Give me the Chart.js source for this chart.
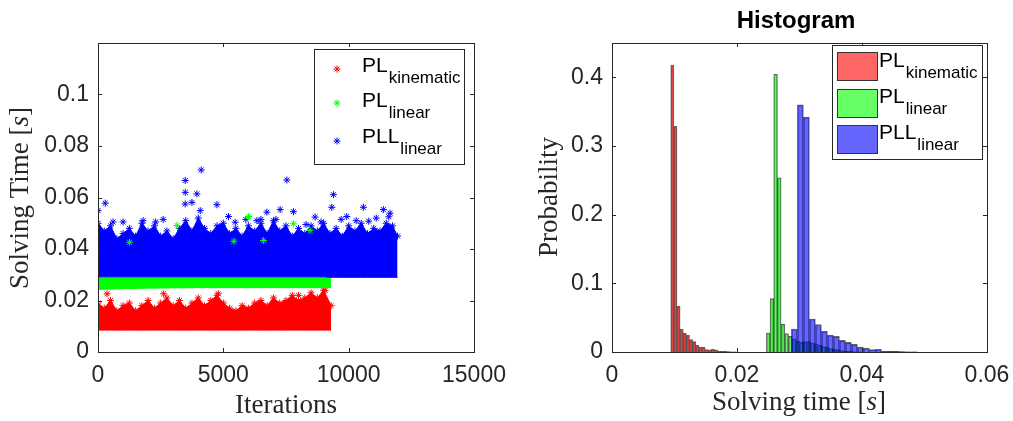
<!DOCTYPE html>
<html><head><meta charset="utf-8">
<script src="https://cdn.jsdelivr.net/npm/chart.js@4.4.1/dist/chart.umd.min.js"></script>
<style>
html,body{margin:0;padding:0;background:#fff;}
#wrap{position:relative;width:1013px;height:421px;overflow:hidden;}
canvas{position:absolute;top:0;}
#c1{left:0;} #c2{left:506px;}
</style></head><body>
<div id="wrap"><canvas id="c1" width="506" height="421"></canvas><canvas id="c2" width="507" height="421"></canvas></div>
<script>
// ---------------- DATA: left panel (solving time per iteration) ----------------
const seriesNames = ['kinematic', 'linear', 'linear'];
const seriesMain = ['PL', 'PL', 'PLL'];
const xTicksLeft = [0, 5000, 10000, 15000];
const yTicksLeft = [0, 0.02, 0.04, 0.06, 0.08, 0.1];

// dense clouds: envelopes
const redEnvX = [0,250,500,750,1000,1250,1500,1750,2000,2250,2500,2750,3000,3250,3500,3750,4000,4250,4500,4750,5000,5250,5500,5750,6000,6250,6500,6750,7000,7250,7500,7750,8000,8250,8500,8750,9000,9300];
const redEnvTop = [0.019,0.017,0.020,0.016,0.018,0.019,0.016,0.018,0.020,0.017,0.019,0.021,0.018,0.020,0.017,0.019,0.021,0.018,0.020,0.022,0.019,0.017,0.016,0.018,0.017,0.019,0.020,0.018,0.021,0.019,0.020,0.022,0.020,0.021,0.023,0.021,0.024,0.018];
const redEnvBottom = [0.0085,0.0085,0.0085,0.0085,0.0085,0.0085,0.0085,0.0085,0.0085,0.0085,0.0085,0.0085,0.0085,0.0085,0.0085,0.0085,0.0085,0.0085,0.0085,0.0085,0.0085,0.0085,0.0085,0.0085,0.0085,0.0085,0.0085,0.0085,0.0085,0.0085,0.0085,0.0085,0.0085,0.0085,0.0085,0.0085,0.0085,0.0085];

const greenEnvX = [0,1000,2000,3000,4000,5000,6000,7000,8000,9000,9300];
const greenEnvTop = [0.029,0.029,0.029,0.029,0.029,0.029,0.029,0.029,0.029,0.029,0.029];
const greenEnvBottom = [0.0243,0.0246,0.0248,0.0249,0.025,0.025,0.025,0.025,0.025,0.025,0.025];

const blueEnvX = [0,250,500,750,1000,1250,1500,1750,2000,2250,2500,2750,3000,3250,3500,3750,4000,4250,4500,4750,5000,5250,5500,5750,6000,6250,6500,6750,7000,7250,7500,7750,8000,8250,8500,8750,9000,9250,9500,9750,10000,10250,10500,10750,11000,11250,11500,11750,11950];
const blueEnvTop = [0.050,0.047,0.049,0.044,0.046,0.048,0.045,0.050,0.047,0.049,0.045,0.047,0.044,0.048,0.051,0.047,0.052,0.048,0.046,0.049,0.050,0.046,0.048,0.045,0.049,0.047,0.050,0.046,0.051,0.047,0.049,0.045,0.048,0.046,0.049,0.047,0.050,0.046,0.048,0.045,0.049,0.047,0.050,0.046,0.048,0.047,0.050,0.049,0.045];
const blueEnvBottom = [0.0292,0.0292,0.0292,0.0292,0.0292,0.0292,0.0292,0.0292,0.0292,0.0292,0.0292,0.0292,0.0292,0.0292,0.0292,0.0292,0.0292,0.0292,0.0292,0.0292,0.0292,0.0292,0.0292,0.0292,0.0292,0.0292,0.0292,0.0292,0.0292,0.0292,0.0292,0.0292,0.0292,0.0292,0.0292,0.0292,0.0292,0.029,0.029,0.029,0.029,0.029,0.029,0.029,0.029,0.029,0.029,0.029,0.029];

// isolated points
const redOutX = [360, 2620, 4800, 8000, 9060];
const redOutY = [0.0226, 0.0226, 0.0226, 0.022, 0.0239];
const greenOutX = [6003, 3149, 7797, 8460, 6600, 5420, 1260];
const greenOutY = [0.0526, 0.0491, 0.0498, 0.0472, 0.0433, 0.0430, 0.0426];
const blueOutX = [0, 290, 3480, 3480, 3480, 4118, 3945, 3747, 4078, 4743, 7534, 9392, 9327, 10588, 11385, 11651, 7267, 6736, 7797, 5206, 6338, 5473, 9925, 10800, 8662,
  600, 1000, 1800, 2300, 2600, 5900, 6500, 7100, 8300, 8900, 9700, 10300, 11100, 11600];
const blueOutY = [0.0549, 0.0578, 0.0666, 0.0620, 0.0575, 0.0707, 0.0614, 0.0581, 0.0549, 0.0572, 0.0668, 0.0611, 0.0562, 0.0562, 0.0553, 0.0539, 0.0553, 0.0543, 0.0545, 0.0526, 0.0510, 0.0504, 0.0526, 0.0508, 0.0524,
  0.0505, 0.0505, 0.0510, 0.0505, 0.0515, 0.0515, 0.0515, 0.0515, 0.0495, 0.0505, 0.0515, 0.0510, 0.0520, 0.0525];

// ---------------- DATA: right panel (histogram, probability) ----------------
const xTicksRight = [0, 0.02, 0.04, 0.06];
const yTicksRight = [0, 0.1, 0.2, 0.3, 0.4];
const redBinStart = 0.0094, redBinW = 0.0005;
const redProb = [0.418,0.329,0.0665,0.0335,0.0277,0.0243,0.018,0.015,0.0097,0.0073,0.007,0.0035,0.003,0.004,0.003,0.0015,0.001,0.0008,0.0005,0.0004,0.0003];
const greenBinStart = 0.0247, greenBinW = 0.00059;
const greenProb = [0.0277,0.0777,0.4045,0.2537,0.0403,0.0268,0.0228,0.019,0.016,0.014,0.015,0.015,0.013,0.012,0.010,0.008,0.007,0.005,0.004,0.003,0.002,0.001,0.0008,0.0005,0.0003,0.0002];
const blueBinStart = 0.0287, blueBinW = 0.00096;
const blueProb = [0.0335,0.360,0.342,0.048,0.040,0.030,0.0245,0.0228,0.017,0.014,0.011,0.0073,0.0058,0.0035,0.004,0.0015,0.001,0.0008,0.0005,0.0004,0.0003];

// ---------------- STYLE / LAYOUT ----------------
const AX = '#262626';
const SANS = "'Liberation Sans', Arial, sans-serif";
const SERIF = "'Liberation Serif', 'Times New Roman', serif";
const tickFont = {family: SANS, size: 23};
const fmt = v => String(Math.round(v * 1000) / 1000);
const RIGHT_PLOT_W = 375;            // px width of right plot area
const PX_PER_UNIT = RIGHT_PLOT_W / 0.06;

function pts(xs, ys) { return xs.map((x, i) => ({x: x, y: ys[i]})); }
function bins(start, w, probs) { return probs.map((p, i) => ({x: start + (i + 0.5) * w, y: p})); }

function drawMixed(ctx, parts, x, y, rotate) {
  ctx.save();
  ctx.translate(x, y);
  if (rotate) ctx.rotate(-Math.PI / 2);
  let total = 0;
  parts.forEach(p => { ctx.font = p.f; total += ctx.measureText(p.t).width; });
  let cx = -total / 2;
  ctx.textAlign = 'left'; ctx.textBaseline = 'alphabetic';
  parts.forEach(p => { ctx.font = p.f; ctx.fillText(p.t, cx, 0); cx += ctx.measureText(p.t).width; });
  ctx.restore();
}
function drawSub(ctx, x, base, main, sub) {
  ctx.textAlign = 'left'; ctx.textBaseline = 'alphabetic'; ctx.fillStyle = '#000';
  ctx.font = '21px ' + SANS; ctx.fillText(main, x, base);
  const w = ctx.measureText(main).width;
  ctx.font = '17px ' + SANS; ctx.fillText(sub, x + w + 1, base + 11);
}
function drawStar(ctx, x, y, r, color) {
  ctx.save(); ctx.strokeStyle = color; ctx.lineWidth = 1; ctx.beginPath();
  for (let k = 0; k < 4; k++) {
    const a = k * Math.PI / 4;
    ctx.moveTo(x - r * Math.cos(a), y - r * Math.sin(a));
    ctx.lineTo(x + r * Math.cos(a), y + r * Math.sin(a));
  }
  ctx.stroke(); ctx.restore();
}

const framePlugin = {
  id: 'matlabFrame',
  afterDatasetsDraw(chart, args, opts) {
    const ctx = chart.ctx, a = chart.chartArea;
    ctx.save();
    ctx.strokeStyle = AX; ctx.lineWidth = 1;
    ctx.strokeRect(Math.round(a.left) + 0.5, Math.round(a.top) + 0.5, Math.round(a.right - a.left), Math.round(a.bottom - a.top));
    const L = 4;
    ctx.beginPath();
    opts.xTicks.forEach(v => {
      const px = Math.round(chart.scales.x.getPixelForValue(v)) + 0.5;
      ctx.moveTo(px, a.bottom); ctx.lineTo(px, a.bottom - L);
      ctx.moveTo(px, a.top); ctx.lineTo(px, a.top + L);
    });
    opts.yTicks.forEach(v => {
      const py = Math.round(chart.scales.y.getPixelForValue(v)) + 0.5;
      ctx.moveTo(a.left, py); ctx.lineTo(a.left + L, py);
      ctx.moveTo(a.right, py); ctx.lineTo(a.right - L, py);
    });
    ctx.stroke();
    ctx.fillStyle = AX;
    const nf = '27px ' + SERIF, itf = 'italic 27px ' + SERIF;
    drawMixed(ctx, opts.xTitle.map(p => ({t: p.t, f: p.i ? itf : nf})), opts.xTitlePos[0], opts.xTitlePos[1], false);
    drawMixed(ctx, opts.yTitle.map(p => ({t: p.t, f: p.i ? itf : nf})), opts.yTitlePos[0], opts.yTitlePos[1], true);
    if (opts.title) {
      ctx.fillStyle = '#000';
      drawMixed(ctx, [{t: opts.title, f: 'bold 24px ' + SANS}], opts.titlePos[0], opts.titlePos[1], false);
    }
    // legend
    const lg = opts.legend;
    ctx.fillStyle = '#fff';
    ctx.fillRect(lg.box[0], lg.box[1], lg.box[2], lg.box[3]);
    ctx.strokeStyle = AX;
    ctx.strokeRect(lg.box[0] + 0.5, lg.box[1] + 0.5, lg.box[2], lg.box[3]);
    for (let i = 0; i < 3; i++) {
      if (lg.kind === 'star') {
        drawStar(ctx, lg.markX, lg.rowY[i], 3.5, lg.colors[i]);
      } else {
        ctx.fillStyle = lg.colors[i];
        ctx.fillRect(lg.markX, lg.rowY[i], 40, 28);
        ctx.strokeStyle = '#333';
        ctx.strokeRect(lg.markX + 0.5, lg.rowY[i] + 0.5, 40, 28);
      }
      drawSub(ctx, lg.textX, lg.base[i], seriesMain[i], seriesNames[i]);
    }
    ctx.restore();
  }
};

function fixedScale(size, isX) {
  return function (scale) {
    if (isX) { scale.height = size; scale.paddingLeft = 0; scale.paddingRight = 0; }
    else { scale.width = size; scale.paddingTop = 0; scale.paddingBottom = 0; }
  };
}

// ---------------- LEFT CHART ----------------
const RED = '#ff0000', GREEN = '#00ff00', BLUE = '#0000ff';
function envUpper(xs, ys, color, order, r) {
  return {type: 'line', data: pts(xs, ys), showLine: true, borderColor: color, borderWidth: 1,
    backgroundColor: color, fill: '+1', pointStyle: 'star', pointRadius: r, pointBorderColor: color,
    pointBorderWidth: 1, order: order, tension: 0};
}
function envLower(xs, ys, color, order) {
  return {type: 'line', data: pts(xs, ys), showLine: true, borderColor: color, borderWidth: 1,
    backgroundColor: color, fill: false, pointRadius: 0, order: order, tension: 0};
}
function outliers(xs, ys, color, order) {
  return {type: 'scatter', data: pts(xs, ys), showLine: false, pointStyle: 'star', pointRadius: 3.5,
    pointBorderColor: color, pointBorderWidth: 1, backgroundColor: color, order: order};
}

new Chart(document.getElementById('c1'), {
  type: 'scatter',
  data: {datasets: [
    envUpper(redEnvX, redEnvTop, RED, 3, 3.5), envLower(redEnvX, redEnvBottom, RED, 3), outliers(redOutX, redOutY, RED, 3),
    envUpper(greenEnvX, greenEnvTop, GREEN, 2, 0), envLower(greenEnvX, greenEnvBottom, GREEN, 2),
    envUpper(blueEnvX, blueEnvTop, BLUE, 1, 3.5), envLower(blueEnvX, blueEnvBottom, BLUE, 1), outliers(blueOutX, blueOutY, BLUE, 1),
    outliers(greenOutX, greenOutY, GREEN, 0)
  ]},
  options: {
    responsive: false, animation: false, events: [],
    layout: {padding: {top: 43, right: 32, left: 0, bottom: 0}},
    plugins: {legend: {display: false}, tooltip: {enabled: false},
      matlabFrame: {xTicks: xTicksLeft, yTicks: yTicksLeft,
        xTitle: [{t: 'Iterations'}], xTitlePos: [286, 413],
        yTitle: [{t: 'Solving Time ['}, {t: 's', i: true}, {t: ']'}], yTitlePos: [28, 198],
        legend: {kind: 'star', box: [314, 49, 150, 115], markX: 337, rowY: [69, 103, 141], textX: 362, base: [72, 107, 143], colors: [RED, GREEN, BLUE]}}},
    scales: {
      x: {type: 'linear', min: 0, max: 15000, afterFit: fixedScale(69, true),
        grid: {display: false, drawTicks: false}, border: {display: false},
        ticks: {stepSize: 5000, padding: 10, color: AX, font: tickFont, maxRotation: 0,
          callback: v => xTicksLeft.includes(v) ? String(v) : ''}},
      y: {type: 'linear', min: 0, max: 0.12, afterFit: fixedScale(98, false),
        grid: {display: false, drawTicks: false}, border: {display: false},
        ticks: {stepSize: 0.02, padding: 9, color: AX, font: tickFont,
          callback: v => yTicksLeft.some(t => Math.abs(t - v) < 1e-9) ? fmt(v) : ''}}
    }
  },
  plugins: [framePlugin]
});

// ---------------- RIGHT CHART ----------------
function histSet(start, w, probs, fillC, order) {
  return {data: bins(start, w, probs), backgroundColor: fillC, borderColor: 'rgba(0,0,0,0.6)', borderWidth: 1,
    borderSkipped: 'bottom', barThickness: w * PX_PER_UNIT, grouped: false, order: order};
}
new Chart(document.getElementById('c2'), {
  type: 'bar',
  data: {datasets: [
    histSet(redBinStart, redBinW, redProb, 'rgba(255,0,0,0.6)', 2),
    histSet(greenBinStart, greenBinW, greenProb, 'rgba(0,255,0,0.6)', 1),
    histSet(blueBinStart, blueBinW, blueProb, 'rgba(0,0,255,0.6)', 0)
  ]},
  options: {
    responsive: false, animation: false, events: [],
    layout: {padding: {top: 43, right: 26, left: 0, bottom: 0}},
    plugins: {legend: {display: false}, tooltip: {enabled: false},
      matlabFrame: {xTicks: xTicksRight, yTicks: yTicksRight,
        xTitle: [{t: 'Solving time ['}, {t: 's', i: true}, {t: ']'}], xTitlePos: [293, 410],
        yTitle: [{t: 'Probability'}], yTitlePos: [51, 197],
        title: 'Histogram', titlePos: [290, 28],
        legend: {kind: 'patch', box: [326, 45, 150, 114], markX: 331, rowY: [52, 89, 125], textX: 373, base: [67, 103, 139],
          colors: ['rgba(255,0,0,0.6)', 'rgba(0,255,0,0.6)', 'rgba(0,0,255,0.6)']}}},
    scales: {
      x: {type: 'linear', min: 0, max: 0.06, offset: false, afterFit: fixedScale(69, true),
        grid: {display: false, drawTicks: false, offset: false}, border: {display: false},
        ticks: {stepSize: 0.02, padding: 10, color: AX, font: tickFont, maxRotation: 0,
          callback: v => xTicksRight.some(t => Math.abs(t - v) < 1e-9) ? fmt(v) : ''}},
      y: {type: 'linear', min: 0, max: 0.45, afterFit: fixedScale(106, false),
        grid: {display: false, drawTicks: false}, border: {display: false},
        ticks: {stepSize: 0.1, padding: 9, color: AX, font: tickFont,
          callback: v => yTicksRight.some(t => Math.abs(t - v) < 1e-9) ? fmt(v) : ''}}
    }
  },
  plugins: [framePlugin]
});
</script>
</body></html>
